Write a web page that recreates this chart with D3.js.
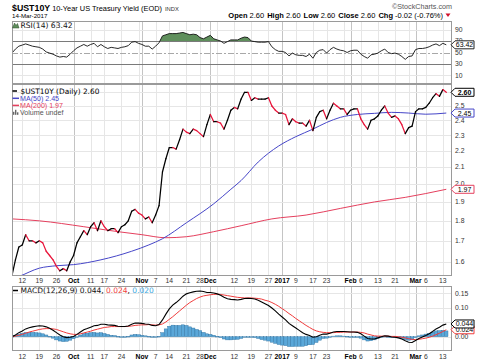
<!DOCTYPE html>
<html><head><meta charset="utf-8">
<script src="https://cdn.jsdelivr.net/npm/d3@7/dist/d3.min.js"></script>
<style>body{margin:0;background:#fff}svg{display:block}</style>
</head><body><svg id="c" width="480" height="363"></svg>
<script>
// ---------------- DATA ----------------
const dates = [
"2016-09-07","2016-09-08","2016-09-09","2016-09-12","2016-09-13","2016-09-14","2016-09-15","2016-09-16","2016-09-19","2016-09-20","2016-09-21","2016-09-22","2016-09-23","2016-09-26","2016-09-27","2016-09-28","2016-09-29","2016-09-30",
"2016-10-03","2016-10-04","2016-10-05","2016-10-06","2016-10-07","2016-10-11","2016-10-12","2016-10-13","2016-10-14","2016-10-17","2016-10-18","2016-10-19","2016-10-20","2016-10-21","2016-10-24","2016-10-25","2016-10-26","2016-10-27","2016-10-28","2016-10-31",
"2016-11-01","2016-11-02","2016-11-03","2016-11-04","2016-11-07","2016-11-08","2016-11-09","2016-11-10","2016-11-14","2016-11-15","2016-11-16","2016-11-17","2016-11-18","2016-11-21","2016-11-22","2016-11-23","2016-11-25","2016-11-28","2016-11-29","2016-11-30",
"2016-12-01","2016-12-02","2016-12-05","2016-12-06","2016-12-07","2016-12-08","2016-12-09","2016-12-12","2016-12-13","2016-12-14","2016-12-15","2016-12-16","2016-12-19","2016-12-20","2016-12-21","2016-12-22","2016-12-23","2016-12-27","2016-12-28","2016-12-29","2016-12-30",
"2017-01-03","2017-01-04","2017-01-05","2017-01-06","2017-01-09","2017-01-10","2017-01-11","2017-01-12","2017-01-13","2017-01-17","2017-01-18","2017-01-19","2017-01-20","2017-01-23","2017-01-24","2017-01-25","2017-01-26","2017-01-27","2017-01-30","2017-01-31",
"2017-02-01","2017-02-02","2017-02-03","2017-02-06","2017-02-07","2017-02-08","2017-02-09","2017-02-10","2017-02-13","2017-02-14","2017-02-15","2017-02-16","2017-02-17","2017-02-21","2017-02-22","2017-02-23","2017-02-24","2017-02-27","2017-02-28",
"2017-03-01","2017-03-02","2017-03-03","2017-03-06","2017-03-07","2017-03-08","2017-03-09","2017-03-10","2017-03-13","2017-03-14"];

const closeValues = [
1.54,1.61,1.67,1.68,1.73,1.70,1.70,1.69,1.70,1.69,1.65,1.63,1.61,1.58,1.56,1.57,1.56,1.60,
1.63,1.69,1.72,1.75,1.73,1.77,1.79,1.75,1.80,1.77,1.75,1.76,1.76,1.74,1.77,1.78,1.80,1.85,1.86,1.84,
1.83,1.81,1.82,1.79,1.83,1.88,2.07,2.15,2.22,2.22,2.21,2.27,2.34,2.32,2.31,2.34,2.33,2.31,2.29,2.37,
2.44,2.39,2.39,2.38,2.34,2.40,2.47,2.49,2.48,2.55,2.60,2.60,2.54,2.56,2.55,2.55,2.55,2.56,2.50,2.47,2.45,
2.45,2.44,2.37,2.41,2.39,2.38,2.38,2.36,2.40,2.33,2.42,2.46,2.47,2.41,2.47,2.52,2.50,2.48,2.48,2.44,
2.47,2.48,2.48,2.41,2.37,2.34,2.40,2.41,2.43,2.47,2.50,2.45,2.42,2.43,2.41,2.37,2.31,2.35,2.36,
2.46,2.48,2.48,2.49,2.52,2.56,2.59,2.57,2.62,2.60];

const ma50Dates = ["2016-09-07","2016-09-09","2016-09-19","2016-09-26","2016-10-03","2016-10-14","2016-10-27","2016-11-03","2016-11-09","2016-11-21","2016-12-02","2016-12-09","2016-12-14","2016-12-21","2016-12-30","2017-01-09","2017-01-17","2017-01-23","2017-01-27","2017-02-03","2017-02-10","2017-02-17","2017-02-27","2017-03-06","2017-03-14"];
const ma50Values = [1.525,1.535,1.572,1.583,1.588,1.61,1.65,1.68,1.71,1.79,1.89,1.97,2.02,2.13,2.23,2.29,2.34,2.385,2.42,2.44,2.448,2.455,2.45,2.442,2.45];

const ma200Dates = ["2016-09-07","2016-09-19","2016-10-06","2016-10-21","2016-11-01","2016-11-10","2016-11-21","2016-12-02","2016-12-14","2016-12-28","2017-01-12","2017-01-27","2017-02-10","2017-02-24","2017-03-14"];
const ma200Values = [1.81,1.80,1.77,1.745,1.73,1.715,1.72,1.745,1.775,1.81,1.83,1.865,1.90,1.925,1.97];

const rsiValues = [
49,56,61,63,65,63,61,60,59,56,51,49,47,44,42,43,42,47,
53,58,61,64,61,64,66,60,64,60,57,59,58,57,59,60,62,68,69,66,
64,61,61,56,61,67,79,81,83,83,83,84,85,83,81,82,81,76,74,77,
80,74,72,70,66,69,72,72,72,75,77,76,70,69,68,68,68,69,60,55,52,
52,50,44,49,46,45,45,43,47,40,50,54,55,49,55,59,56,54,53,50,
53,54,54,47,43,40,46,47,49,53,56,50,48,49,47,43,38,43,44,
55,57,57,58,60,63,65,62,66,63.42];

const macdValues = [
0.000,0.006,0.014,0.020,0.027,0.031,0.034,0.036,0.038,0.037,0.034,0.029,0.022,0.014,0.006,0.000,-0.003,-0.002,
0.001,0.008,0.016,0.024,0.028,0.033,0.038,0.039,0.043,0.043,0.041,0.040,0.039,0.036,0.035,0.035,0.037,0.043,0.047,0.047,
0.046,0.044,0.043,0.039,0.038,0.042,0.058,0.078,0.096,0.109,0.118,0.128,0.140,0.148,0.152,0.155,0.157,0.158,0.156,0.153,
0.153,0.151,0.148,0.143,0.136,0.131,0.129,0.128,0.127,0.129,0.132,0.133,0.132,0.130,0.126,0.120,0.114,0.108,0.099,0.089,0.078,
0.068,0.058,0.046,0.038,0.030,0.022,0.014,0.008,0.004,-0.002,0.000,0.005,0.009,0.009,0.012,0.016,0.018,0.018,0.018,0.017,
0.016,0.016,0.015,0.010,0.002,-0.006,-0.008,-0.008,-0.004,0.000,0.003,0.002,-0.001,-0.002,-0.004,-0.008,-0.014,-0.019,-0.020,
-0.013,-0.006,-0.001,0.004,0.010,0.018,0.027,0.033,0.040,0.044];

const signalValues = [
0.000,0.002,0.005,0.008,0.012,0.016,0.019,0.022,0.025,0.027,0.028,0.028,0.027,0.025,0.021,0.017,0.013,0.010,
0.008,0.008,0.010,0.013,0.016,0.019,0.023,0.026,0.029,0.032,0.033,0.035,0.035,0.035,0.035,0.035,0.036,0.037,0.039,0.040,
0.041,0.041,0.042,0.041,0.040,0.041,0.044,0.051,0.060,0.069,0.079,0.089,0.099,0.109,0.118,0.125,0.132,0.137,0.141,0.143,
0.145,0.146,0.147,0.146,0.144,0.142,0.140,0.138,0.136,0.135,0.134,0.134,0.134,0.133,0.132,0.130,0.126,0.123,0.118,0.112,0.105,
0.097,0.089,0.080,0.072,0.063,0.055,0.047,0.039,0.032,0.025,0.020,0.017,0.015,0.014,0.014,0.014,0.015,0.015,0.016,0.016,
0.016,0.016,0.016,0.015,0.013,0.009,0.006,0.003,0.002,0.002,0.002,0.002,0.001,0.001,0.000,-0.002,-0.004,-0.007,-0.009,
-0.010,-0.009,-0.007,-0.005,-0.002,0.002,0.007,0.012,0.018,0.024];

const histValues = [
0.000,0.004,0.009,0.012,0.015,0.015,0.015,0.014,0.013,0.010,0.006,0.001,-0.005,-0.011,-0.015,-0.017,-0.016,-0.012,
-0.007,0.000,0.006,0.011,0.012,0.014,0.015,0.013,0.014,0.011,0.008,0.005,0.004,0.001,0.000,0.000,0.001,0.006,0.008,0.007,
0.005,0.003,0.001,-0.002,-0.002,0.001,0.014,0.027,0.036,0.040,0.039,0.039,0.041,0.039,0.034,0.030,0.025,0.021,0.015,0.010,
0.008,0.005,0.001,-0.003,-0.008,-0.011,-0.011,-0.010,-0.009,-0.006,-0.002,-0.001,-0.002,-0.003,-0.006,-0.010,-0.012,-0.015,-0.019,-0.023,-0.027,
-0.029,-0.031,-0.034,-0.034,-0.033,-0.033,-0.033,-0.031,-0.028,-0.027,-0.020,-0.012,-0.006,-0.005,-0.002,0.002,0.003,0.003,0.002,0.001,
0.000,0.000,-0.001,-0.005,-0.011,-0.015,-0.014,-0.011,-0.006,-0.002,0.001,0.000,-0.002,-0.003,-0.004,-0.006,-0.010,-0.012,-0.011,
-0.003,0.003,0.006,0.009,0.012,0.016,0.020,0.021,0.022,0.020];

const tickDates  = ["2016-09-12","2016-09-19","2016-09-26","2016-10-03","2016-10-11","2016-10-17","2016-10-24","2016-11-01","2016-11-07","2016-11-14","2016-11-21","2016-11-28","2016-12-01","2016-12-12","2016-12-19","2016-12-27","2017-01-03","2017-01-09","2017-01-17","2017-01-23","2017-02-01","2017-02-06","2017-02-13","2017-02-21","2017-03-01","2017-03-06","2017-03-13"];
const tickLabels = ["12","19","26","Oct","11","17","24","Nov","7","14","21","28","Dec","12","19","27","2017","9","17","23","Feb","6","13","21","Mar","6","13"];
const monthTicks = ["Oct","Nov","Dec","2017","Feb","Mar"];
const extraGridDates = ["2016-10-31","2016-12-05","2017-01-30","2017-02-27"];

const priceTicks = [1.6,1.7,1.8,1.9,2.0,2.1,2.2,2.3,2.4,2.5,2.6];
const priceTickLabels = [1.6,1.7,1.8,1.9,2.0,2.1,2.2,2.3,2.4,2.5];
const rsiTicks = [90,70,50,30,10];
const macdTicks = [0.00,0.05,0.10,0.15];

// ---------------- DRAW ----------------
const svg = d3.select("#c");
const L = 12, R = 452;
const idx = new Map(dates.map((d,i)=>[d,i]));
const x = d3.scaleLinear().domain([0, dates.length - 1 + 1.67]).range([L, R]);

const P = { rsi:[21,84], main:[84,276], macd:[286,351] };
const yR = d3.scaleLinear().domain([-5,105]).range([P.rsi[1], P.rsi[0]]);
const yP = d3.scaleLog().domain([1.6,2.5]).range([262,106]);
const yM = d3.scaleLinear().domain([-0.0494,0.1752]).range([P.macd[1], P.macd[0]]);

const SANS = "'Liberation Sans', Arial, sans-serif";
const VER = "'DejaVu Sans', Verdana, sans-serif";

const defs = svg.append("defs");
Object.entries(P).forEach(([k,[t,b]])=>{
  defs.append("clipPath").attr("id","clip-"+k).append("rect").attr("x",L).attr("y",t).attr("width",R-L).attr("height",b-t);
});
defs.append("clipPath").attr("id","clip-ob").append("rect").attr("x",L).attr("y",P.rsi[0]).attr("width",R-L).attr("height",yR(70)-P.rsi[0]);

// vertical grid
const gridAll = tickDates.concat(extraGridDates);
Object.entries(P).forEach(([k,[t,b]])=>{
  svg.append("g").selectAll("line").data(gridAll).join("line")
    .attr("x1",d=>Math.round(x(idx.get(d)))+0.5).attr("x2",d=>Math.round(x(idx.get(d)))+0.5)
    .attr("y1",t).attr("y2",b)
    .attr("stroke",d=>{const j=tickDates.indexOf(d); return (j>=0 && monthTicks.includes(tickLabels[j]))?"#c4c4c4":"#e6e6e6";})
    .attr("stroke-width",1);
});

// horizontal grids
svg.append("g").selectAll("line").data([90,10]).join("line")
  .attr("x1",L).attr("x2",R).attr("y1",d=>Math.round(yR(d))+0.5).attr("y2",d=>Math.round(yR(d))+0.5).attr("stroke","#e6e6e6");
svg.append("g").selectAll("line").data(priceTicks).join("line")
  .attr("x1",L).attr("x2",R).attr("y1",d=>Math.round(yP(d))+0.5).attr("y2",d=>Math.round(yP(d))+0.5).attr("stroke","#e6e6e6");
svg.append("g").selectAll("line").data(macdTicks).join("line")
  .attr("x1",L).attr("x2",R).attr("y1",d=>Math.round(yM(d))+0.5).attr("y2",d=>Math.round(yM(d))+0.5).attr("stroke","#e6e6e6");

// ---- RSI panel
const rsiG = svg.append("g").attr("clip-path","url(#clip-rsi)");
rsiG.append("path").datum(rsiValues)
  .attr("d", d3.area().x((d,i)=>x(i)).y0(yR(70)).y1(d=>yR(d)))
  .attr("clip-path","url(#clip-ob)")
  .attr("fill","#5f8f5c").attr("stroke","none");
[70,30].forEach(v=>rsiG.append("line").attr("x1",L).attr("x2",R).attr("y1",Math.round(yR(v))+0.5).attr("y2",Math.round(yR(v))+0.5).attr("stroke","#7a7a7a"));
rsiG.append("line").attr("x1",L).attr("x2",R).attr("y1",Math.round(yR(50))+0.5).attr("y2",Math.round(yR(50))+0.5)
  .attr("stroke","#a8a8a8").attr("stroke-dasharray","6,2,2,2");
rsiG.append("path").datum(rsiValues)
  .attr("d", d3.line().x((d,i)=>x(i)).y(d=>yR(d)))
  .attr("fill","none").attr("stroke","#111").attr("stroke-width",0.9);

// ---- Main panel
const mainG = svg.append("g").attr("clip-path","url(#clip-main)");
mainG.append("path").datum(ma200Values)
  .attr("d", d3.line().curve(d3.curveMonotoneX).x((d,i)=>x(idx.get(ma200Dates[i]))).y(d=>yP(d)))
  .attr("fill","none").attr("stroke","#e5405e").attr("stroke-width",1);
mainG.append("path").datum(ma50Values)
  .attr("d", d3.line().curve(d3.curveMonotoneX).x((d,i)=>x(idx.get(ma50Dates[i]))).y(d=>yP(d)))
  .attr("fill","none").attr("stroke","#4646c8").attr("stroke-width",1);
const segs = d3.range(1, closeValues.length).map(i=>({i, up: closeValues[i] >= closeValues[i-1]}));
mainG.append("g").selectAll("line").data(segs).join("line")
  .attr("x1",d=>x(d.i-1)).attr("y1",d=>yP(closeValues[d.i-1]))
  .attr("x2",d=>x(d.i)).attr("y2",d=>yP(closeValues[d.i]))
  .attr("stroke",d=>d.up?"#000":"#e8143a").attr("stroke-width",1.25).attr("stroke-linecap","round");

// ---- MACD panel
const macdG = svg.append("g").attr("clip-path","url(#clip-macd)");
const bw = x(1)-x(0);
macdG.append("g").selectAll("rect").data(histValues).join("rect")
  .attr("x",(d,i)=>x(i)-bw/2).attr("width",bw)
  .attr("y",d=>Math.min(yM(d),yM(0))).attr("height",d=>Math.max(0.6,Math.abs(yM(d)-yM(0))))
  .attr("fill","#5aa7d8").attr("stroke","#2b6f9f").attr("stroke-width",0.4);
macdG.append("path").datum(signalValues)
  .attr("d", d3.line().x((d,i)=>x(i)).y(d=>yM(d)))
  .attr("fill","none").attr("stroke","#f03c3c").attr("stroke-width",1);
macdG.append("path").datum(macdValues)
  .attr("d", d3.line().x((d,i)=>x(i)).y(d=>yM(d)))
  .attr("fill","none").attr("stroke","#000").attr("stroke-width",1.1);

// panel borders
Object.values(P).forEach(([t,b])=>{
  svg.append("rect").attr("x",L+0.5).attr("y",t+0.5).attr("width",R-L-1).attr("height",b-t-1)
    .attr("fill","none").attr("stroke","#9a9a9a");
});

// right axis labels
const axTxt = (y, t) => svg.append("text").attr("x",455).attr("y",y).attr("dy","0.35em")
  .attr("font-family",SANS).attr("font-size",6.8).attr("fill","#333").text(t);
rsiTicks.forEach(v=>axTxt(yR(v), v));
priceTickLabels.forEach(v=>axTxt(yP(v), d3.format(".1f")(v)));
macdTicks.forEach(v=>axTxt(yM(v), d3.format(".2f")(v)));

// x axis labels
[283, 359].forEach(yy=>{
  svg.append("g").selectAll("text").data(tickDates).join("text")
    .attr("x",d=>x(idx.get(d))).attr("y",yy).attr("text-anchor","middle")
    .attr("font-family",SANS).attr("font-size",6.8)
    .attr("font-weight",(d,i)=>monthTicks.includes(tickLabels[i])?"bold":"normal")
    .attr("fill",(d,i)=>monthTicks.includes(tickLabels[i])?"#000":"#333")
    .text((d,i)=>tickLabels[i]);
});

// value tags
function tag(y, t, stroke, bold){
  const g = svg.append("g");
  const w = 23, x0 = 451, h = 4;
  g.append("path").attr("d",`M${x0},${y} L${x0+4},${y-h} L${x0+w},${y-h} L${x0+w},${y+h} L${x0+4},${y+h} Z`)
    .attr("fill","#fff").attr("stroke",stroke).attr("stroke-width",1);
  g.append("text").attr("x",x0+4+(w-4)/2).attr("y",y).attr("dy","0.36em").attr("text-anchor","middle")
    .attr("font-family",SANS).attr("font-size",7).attr("font-weight",bold?"bold":"normal").attr("fill","#000").text(t);
}
tag(yR(rsiValues[rsiValues.length-1]), "63.42", "#222", false);
tag(yP(closeValues[closeValues.length-1]), "2.60", "#000", true);
tag(yP(ma50Values[ma50Values.length-1]), "2.45", "#4646c8", false);
tag(yP(ma200Values[ma200Values.length-1]), "1.97", "#e5405e", false);
tag(yM(signalValues[signalValues.length-1]), "0.024", "#f03c3c", false);
tag(yM(macdValues[macdValues.length-1]), "0.044", "#000", false);

// ---- header
const hdr = svg.append("text").attr("x",12).attr("y",11).attr("font-family",SANS);
hdr.append("tspan").attr("font-size",8.8).attr("font-weight","bold").text("$UST10Y");
hdr.append("tspan").attr("font-size",7.4).attr("dx",2).text("10-Year US Treasury Yield (EOD)");
hdr.append("tspan").attr("font-size",5.8).attr("dx",3).attr("fill","#333").text("INDX");
svg.append("text").attr("x",12).attr("y",17.5).attr("font-family",SANS).attr("font-size",6.2).text("14-Mar-2017");
svg.append("text").attr("x",452).attr("y",8.5).attr("text-anchor","end").attr("font-family",SANS).attr("font-size",7.2).attr("fill","#555").text("©StockCharts.com");
const ohlc = svg.append("text").attr("x",443).attr("y",17.5).attr("text-anchor","end").attr("font-family",SANS).attr("font-size",7.5);
[["Open","2.60"],["High","2.60"],["Low","2.60"],["Close","2.60"],["Chg","-0.02 (-0.76%)"]].forEach(([k,v],i)=>{
  ohlc.append("tspan").attr("font-weight","bold").attr("dx",i?3:0).text(k+" ");
  ohlc.append("tspan").text(v);
});
svg.append("path").attr("d","M445.5,13.5 L450.5,13.5 L448,17 Z").attr("fill","#d0102a");

// ---- legends
svg.append("path").attr("d","M12.5,28 L14.5,23 L16,25.5 L17.5,23.5 L19,28 Z").attr("fill","#5f8f5c").attr("stroke","#2d4d2b").attr("stroke-width",0.5);
svg.append("text").attr("x",20.5).attr("y",27.5).attr("font-family",VER).attr("font-size",7.6).attr("fill","#111").text("RSI(14) 63.42");
svg.append("line").attr("x1",12.5).attr("x2",17).attr("y1",91).attr("y2",91).attr("stroke","#000").attr("stroke-width",1.5);
svg.append("text").attr("x",20.5).attr("y",93.5).attr("font-family",VER).attr("font-size",7.4).attr("fill","#000").text("$UST10Y (Daily) 2.60");
svg.append("line").attr("x1",12.5).attr("x2",19).attr("y1",98.3).attr("y2",98.3).attr("stroke","#4646c8").attr("stroke-width",1.5);
svg.append("text").attr("x",20).attr("y",100.6).attr("font-family",SANS).attr("font-size",7.1).attr("fill","#4646c8").text("MA(50) 2.45");
svg.append("line").attr("x1",12.5).attr("x2",19).attr("y1",105.4).attr("y2",105.4).attr("stroke","#e5405e").attr("stroke-width",1.5);
svg.append("text").attr("x",20).attr("y",107.7).attr("font-family",SANS).attr("font-size",7.1).attr("fill","#e5405e").text("MA(200) 1.97");
[[13,3],[15,5],[17,2.5]].forEach(([bx,h])=>svg.append("rect").attr("x",bx).attr("y",114.8-h).attr("width",1.4).attr("height",h).attr("fill","#666"));
svg.append("text").attr("x",20).attr("y",115).attr("font-family",SANS).attr("font-size",7.1).attr("fill","#555").text("Volume undef");
svg.append("line").attr("x1",13).attr("x2",18).attr("y1",290.5).attr("y2",290.5).attr("stroke","#000").attr("stroke-width",1.5);
const ml = svg.append("text").attr("x",20.5).attr("y",293).attr("font-family",VER).attr("font-size",7.5);
ml.append("tspan").attr("fill","#111").text("MACD(12,26,9) 0.044, ");
ml.append("tspan").attr("fill","#f03c3c").text("0.024");
ml.append("tspan").attr("fill","#111").text(", ");
ml.append("tspan").attr("fill","#3aa7e0").text("0.020");
</script></body></html>
